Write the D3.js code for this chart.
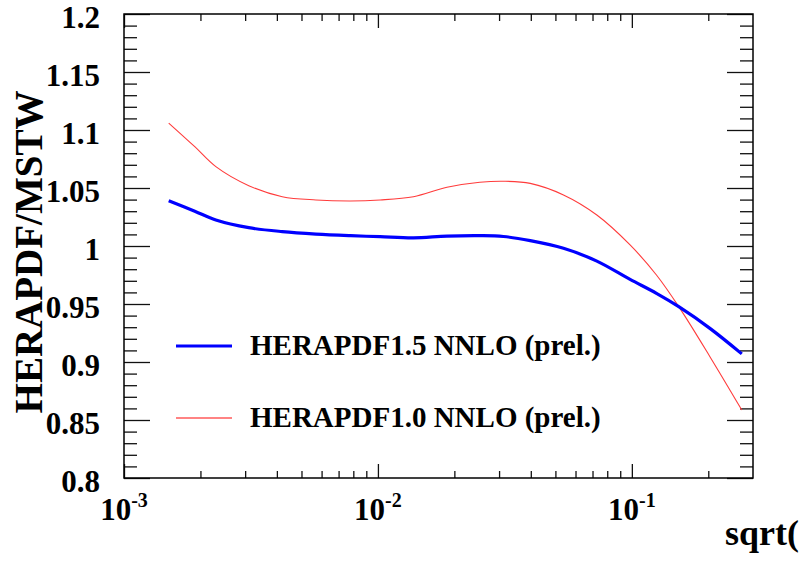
<!DOCTYPE html>
<html><head><meta charset="utf-8">
<script src="https://cdn.jsdelivr.net/npm/d3@7"></script>
<style>html,body{margin:0;padding:0;background:#fff;} svg{display:block;}</style>
</head><body>
<script>
// ---- data ----
const xValues    = [0.0015, 0.0019, 0.0023, 0.0031, 0.0042, 0.0057, 0.0078, 0.0102, 0.0138, 0.0187, 0.0252, 0.0312, 0.0398, 0.0538, 0.0728, 0.0984, 0.1250, 0.1530, 0.2030, 0.2710];
const blueValues = [1.039, 1.030, 1.0224, 1.0158, 1.0124, 1.0103, 1.0089, 1.0080, 1.0070, 1.0085, 1.0089, 1.0082, 1.0046, 0.998, 0.9870, 0.9712, 0.9592, 0.9477, 0.929, 0.907];
const redValues  = [1.106, 1.0856, 1.0684, 1.052, 1.0425, 1.0397, 1.0388, 1.0397, 1.0425, 1.0506, 1.0549, 1.0558, 1.054, 1.044, 1.0267, 1.0009, 0.975, 0.9477, 0.9046, 0.8586];
const seriesNames = ["HERAPDF1.5 NNLO (prel.)", "HERAPDF1.0 NNLO (prel.)"];
const yTickValues = [0.8, 0.85, 0.9, 0.95, 1, 1.05, 1.1, 1.15, 1.2];
const yTickLabels = ["0.8", "0.85", "0.9", "0.95", "1", "1.05", "1.1", "1.15", "1.2"];
const xDecadeValues = [0.001, 0.01, 0.1];
const xDecadeExponents = ["-3", "-2", "-1"];
const yTitle = "HERAPDF/MSTW";
const xTitle = "sqrt(";

// ---- layout ----
const W = 799, H = 561;
const L = 124, R = 753, T = 14, B = 478;
const FONT = "'Liberation Serif','Times New Roman',serif";

const svg = d3.select("body").append("svg").attr("width", W).attr("height", H)
  .style("font-family", FONT).style("font-weight", "bold");

const x = d3.scaleLog().domain([0.001, 0.3]).range([L, R]);
const y = d3.scaleLinear().domain([0.8, 1.2]).range([B, T]);

// minor ticks
const yMinor = d3.range(80, 121).map(v => v / 100).filter(v => !yTickValues.some(t => Math.abs(t - v) < 1e-9));
const xMinor = [];
xDecadeValues.forEach(d => { for (let k = 2; k <= 9; k++) { const v = k * d; if (v < 0.3 - 1e-9) xMinor.push(v); } });

function styleAxis(g) {
  g.select(".domain").remove();
  g.selectAll(".tick line").attr("stroke", "#111").attr("stroke-width", 1.3);
  g.selectAll(".tick text").remove();
}
svg.append("g").attr("transform", `translate(${L},0)`).call(d3.axisLeft(y).tickValues(yTickValues).tickSize(-26).tickFormat("")).call(styleAxis);
svg.append("g").attr("transform", `translate(${L},0)`).call(d3.axisLeft(y).tickValues(yMinor).tickSize(-13).tickFormat("")).call(styleAxis);
svg.append("g").attr("transform", `translate(${R},0)`).call(d3.axisRight(y).tickValues(yTickValues).tickSize(-26).tickFormat("")).call(styleAxis);
svg.append("g").attr("transform", `translate(${R},0)`).call(d3.axisRight(y).tickValues(yMinor).tickSize(-13).tickFormat("")).call(styleAxis);
svg.append("g").attr("transform", `translate(0,${B})`).call(d3.axisBottom(x).tickValues(xDecadeValues).tickSize(-14).tickFormat("")).call(styleAxis);
svg.append("g").attr("transform", `translate(0,${B})`).call(d3.axisBottom(x).tickValues(xMinor).tickSize(-7).tickFormat("")).call(styleAxis);
svg.append("g").attr("transform", `translate(0,${T})`).call(d3.axisTop(x).tickValues(xDecadeValues).tickSize(-14).tickFormat("")).call(styleAxis);
svg.append("g").attr("transform", `translate(0,${T})`).call(d3.axisTop(x).tickValues(xMinor).tickSize(-7).tickFormat("")).call(styleAxis);

// frame
svg.append("rect").attr("x", L).attr("y", T).attr("width", R - L).attr("height", B - T)
  .attr("fill", "none").attr("stroke", "#000").attr("stroke-width", 1.5);

// y tick labels
svg.append("g").selectAll("text").data(yTickValues).join("text")
  .attr("x", 100).attr("y", d => y(d) + 14).attr("text-anchor", "end")
  .attr("font-size", 31).text((d, i) => yTickLabels[i]);

// x tick labels
const xl = svg.append("g").selectAll("text").data(xDecadeValues).join("text")
  .attr("x", d => x(d)).attr("y", 520).attr("text-anchor", "middle").attr("font-size", 31);
xl.append("tspan").text("10");
xl.append("tspan").attr("dy", -13).attr("font-size", 20).text((d, i) => xDecadeExponents[i]);

// axis titles
svg.append("text").attr("transform", "translate(42,252) rotate(-90)")
  .attr("text-anchor", "middle").attr("font-size", 39).text(yTitle);
svg.append("text").attr("x", 725).attr("y", 545).attr("font-size", 36).text(xTitle);

// curves
const line = d3.line().x((d, i) => x(xValues[i])).y(d => y(d)).curve(d3.curveCatmullRom.alpha(0.5));
svg.append("path").datum(redValues).attr("d", line).attr("fill", "none")
  .attr("stroke", "#ff3b3b").attr("stroke-width", 1.1);
svg.append("path").datum(blueValues).attr("d", line).attr("fill", "none")
  .attr("stroke", "#0000ff").attr("stroke-width", 3.2);

// legend
const legend = [
  { name: seriesNames[0], color: "#0000ff", w: 3.2, ly: 346, ty: 355 },
  { name: seriesNames[1], color: "#ff5a5a", w: 1.3, ly: 418, ty: 427 }
];
const lg = svg.append("g");
legend.forEach(e => {
  lg.append("line").attr("x1", 176).attr("x2", 232).attr("y1", e.ly).attr("y2", e.ly)
    .attr("stroke", e.color).attr("stroke-width", e.w);
  lg.append("text").attr("x", 250).attr("y", e.ty).attr("font-size", 29).text(e.name);
});
</script>
</body></html>
